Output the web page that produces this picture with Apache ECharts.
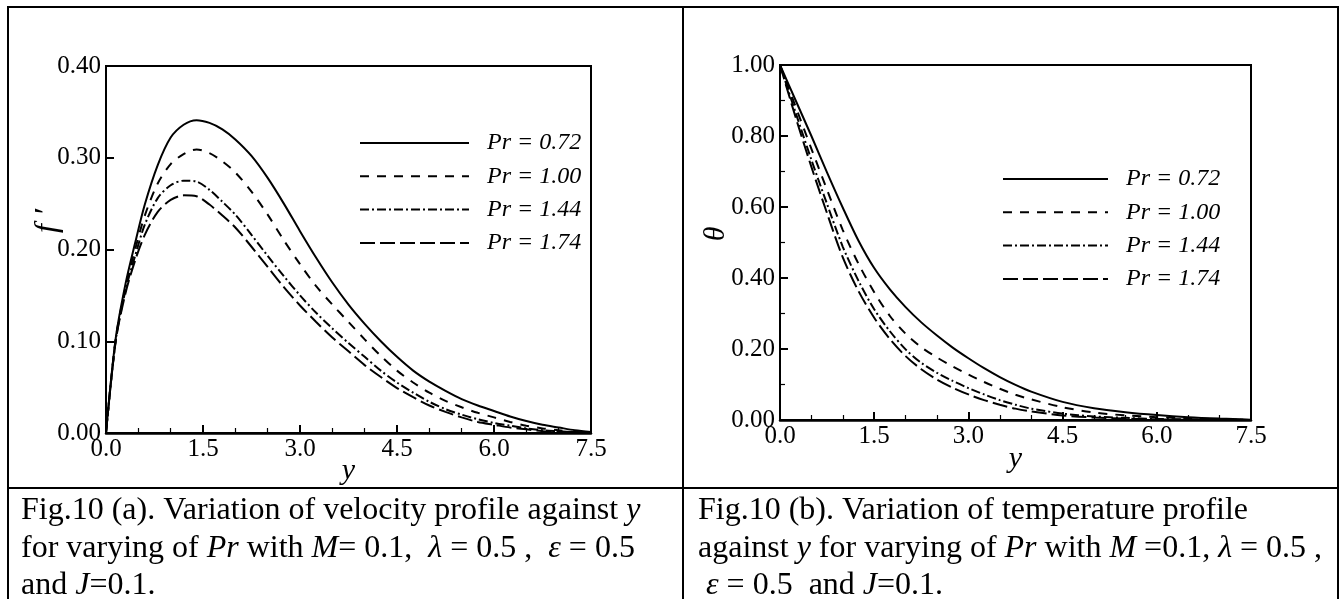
<!DOCTYPE html>
<html>
<head>
<meta charset="utf-8">
<title>Fig.10</title>
<script src="https://cdn.jsdelivr.net/npm/echarts/dist/echarts.min.js"></script>
<style>
  html, body { margin: 0; padding: 0; background: #fff; }
  #main { width: 1340px; height: 599px; }
</style>
</head>
<body>
<div id="main"></div>
<script>
// legend names (same four Pr values in both panels)
var prNames = ['Pr = 0.72', 'Pr = 1.00', 'Pr = 1.44', 'Pr = 1.74'];

// (a) velocity profile f' against y
var velY = [0, 0.15, 0.3, 0.45, 0.6, 0.8, 1.0, 1.2, 1.4, 1.6, 1.8, 2.0, 2.25, 2.5, 2.75, 3.0, 3.25, 3.5, 3.75, 4.0, 4.25, 4.5, 4.75, 5.0, 5.25, 5.5, 5.75, 6.0, 6.25, 6.5, 6.75, 7.0, 7.25, 7.5];
var velPr072 = [0, 0.103, 0.162, 0.207, 0.249, 0.292, 0.322, 0.336, 0.341, 0.338, 0.331, 0.320, 0.302, 0.278, 0.250, 0.220, 0.191, 0.164, 0.140, 0.119, 0.100, 0.083, 0.068, 0.056, 0.046, 0.037, 0.030, 0.024, 0.018, 0.013, 0.009, 0.006, 0.003, 0.001];
var velPr100 = [0, 0.102, 0.158, 0.200, 0.237, 0.272, 0.293, 0.304, 0.309, 0.305, 0.296, 0.284, 0.263, 0.238, 0.210, 0.184, 0.160, 0.140, 0.121, 0.102, 0.084, 0.068, 0.055, 0.044, 0.035, 0.028, 0.022, 0.017, 0.012, 0.008, 0.005, 0.003, 0.001, 0.000];
var velPr144 = [0, 0.101, 0.155, 0.193, 0.227, 0.256, 0.270, 0.275, 0.274, 0.265, 0.252, 0.238, 0.216, 0.193, 0.171, 0.150, 0.131, 0.114, 0.098, 0.083, 0.068, 0.055, 0.044, 0.034, 0.026, 0.020, 0.015, 0.011, 0.008, 0.005, 0.003, 0.002, 0.001, 0.000];
var velPr174 = [0, 0.100, 0.152, 0.188, 0.216, 0.241, 0.254, 0.259, 0.258, 0.249, 0.237, 0.224, 0.203, 0.181, 0.159, 0.139, 0.121, 0.104, 0.089, 0.074, 0.061, 0.049, 0.039, 0.030, 0.023, 0.017, 0.012, 0.009, 0.006, 0.004, 0.002, 0.001, 0.001, 0.000];

// (b) temperature profile theta against y
var tempY = [0, 0.25, 0.5, 0.75, 1.0, 1.25, 1.5, 1.75, 2.0, 2.25, 2.5, 2.75, 3.0, 3.25, 3.5, 3.75, 4.0, 4.5, 5.0, 5.5, 6.0, 6.5, 7.0, 7.5];
var tempPr072 = [1, 0.900, 0.800, 0.697, 0.598, 0.505, 0.428, 0.368, 0.318, 0.275, 0.238, 0.204, 0.174, 0.146, 0.121, 0.099, 0.080, 0.051, 0.033, 0.022, 0.014, 0.008, 0.004, 0.001];
var tempPr100 = [1, 0.882, 0.764, 0.648, 0.535, 0.440, 0.360, 0.293, 0.243, 0.205, 0.176, 0.151, 0.128, 0.107, 0.088, 0.071, 0.058, 0.036, 0.021, 0.013, 0.008, 0.005, 0.002, 0.000];
var tempPr144 = [1, 0.865, 0.733, 0.608, 0.488, 0.392, 0.312, 0.250, 0.199, 0.161, 0.133, 0.110, 0.090, 0.072, 0.056, 0.043, 0.032, 0.018, 0.010, 0.006, 0.003, 0.002, 0.001, 0.000];
var tempPr174 = [1, 0.852, 0.713, 0.582, 0.458, 0.363, 0.288, 0.228, 0.180, 0.143, 0.114, 0.091, 0.072, 0.056, 0.043, 0.032, 0.024, 0.013, 0.007, 0.004, 0.002, 0.001, 0.000, 0.000];

// axis ranges / tick steps
var yTickStep = 1.5, yMax = 7.5;
var velMax = 0.4, velStep = 0.1;
var tempMax = 1.0, tempStep = 0.2;

var serif = "'Liberation Serif', 'Times New Roman', serif";
var dashTypes = ['solid', [9, 8], [9, 3, 2, 3], [15, 5]];

function pairs(xs, ys) {
	return xs.map(function (x, i) { return [x, ys[i]]; });
}

function xAxisFor(grid, nameGap) {
	return {
		gridIndex: grid, type: 'value', min: 0, max: yMax, interval: yTickStep,
		name: 'y', nameLocation: 'middle', nameGap: nameGap, nameMoveOverlap: false,
		nameTextStyle: { fontFamily: serif, fontStyle: 'italic', fontSize: 30, color: '#000' },
		axisLine: { lineStyle: { color: '#000', width: 2.5 } },
		axisTick: { inside: true, length: 8, lineStyle: { color: '#000', width: 2 } },
		minorTick: { show: true, splitNumber: 3, length: 5, lineStyle: { color: '#000', width: 1.2 } },
		splitLine: { show: false },
		axisLabel: { color: '#000', fontFamily: serif, fontSize: 25, margin: 4,
			formatter: function (v) { return v.toFixed(1); } }
	};
}

function yAxisFor(grid, max, step, minor) {
	return {
		gridIndex: grid, type: 'value', min: 0, max: max, interval: step,
		axisLine: { show: true, lineStyle: { color: '#000', width: 2 } },
		axisTick: { inside: true, length: 8, lineStyle: { color: '#000', width: 2 } },
		minorTick: { show: minor > 0, splitNumber: minor || 2, length: 5, lineStyle: { color: '#000', width: 1.2 } },
		splitLine: { show: false },
		axisLabel: { color: '#000', fontFamily: serif, fontSize: 25, margin: 5,
			formatter: function (v) { return v.toFixed(2); } }
	};
}

var velSets = [velPr072, velPr100, velPr144, velPr174];
var tempSets = [tempPr072, tempPr100, tempPr144, tempPr174];
var series = [];
velSets.forEach(function (vals, i) {
	series.push({
		name: prNames[i], type: 'line', xAxisIndex: 0, yAxisIndex: 0, color: '#000',
		data: pairs(velY, vals), symbol: 'none', smooth: 0.3,
		lineStyle: { color: '#000', width: 2, type: dashTypes[i] }
	});
});
tempSets.forEach(function (vals, i) {
	series.push({
		name: prNames[i], type: 'line', xAxisIndex: 1, yAxisIndex: 1, color: '#000',
		data: pairs(tempY, vals), symbol: 'none', smooth: 0.3,
		lineStyle: { color: '#000', width: 2, type: dashTypes[i] }
	});
});

function legendAt(left, top, width) {
	return {
		data: prNames, orient: 'vertical', left: left, top: top,
		itemWidth: width, itemHeight: 14, itemGap: 9.3,
		selectedMode: false,
		itemStyle: { opacity: 0 },
		textStyle: { fontFamily: serif, fontStyle: 'italic', fontSize: 24, lineHeight: 24,
			color: '#000', padding: [0, 0, 0, 13] }
	};
}

var captionRich = {
	n: { fontFamily: serif, fontSize: 32, lineHeight: 37.5, color: '#000' },
	i: { fontFamily: serif, fontSize: 32, lineHeight: 37.5, color: '#000', fontStyle: 'italic' }
};

var chart = echarts.init(document.getElementById('main'), null, { renderer: 'canvas' });
chart.setOption({
	animation: false,
	backgroundColor: '#fff',
	grid: [
		{ left: 106, top: 66, width: 485, height: 367, show: true, borderColor: '#000', borderWidth: 2 },
		{ left: 780, top: 65, width: 471, height: 355, show: true, borderColor: '#000', borderWidth: 2 }
	],
	xAxis: [xAxisFor(0, 23), xAxisFor(1, 24)],
	yAxis: [yAxisFor(0, velMax, velStep, 0), yAxisFor(1, tempMax, tempStep, 2)],
	legend: [legendAt(354, 126, 109), legendAt(997, 162, 105)],
	series: series,
	graphic: [
		// table frame around the two panels
		{ type: 'rect', silent: true, shape: { x: 8, y: 7, width: 1330, height: 640 },
			style: { fill: 'none', stroke: '#000', lineWidth: 2 } },
		{ type: 'line', silent: true, shape: { x1: 683, y1: 7, x2: 683, y2: 640 },
			style: { stroke: '#000', lineWidth: 2 } },
		{ type: 'line', silent: true, shape: { x1: 8, y1: 488, x2: 1338, y2: 488 },
			style: { stroke: '#000', lineWidth: 2 } },
		// y axis titles
		{ type: 'text', x: 48, y: 221, rotation: Math.PI / 2,
			style: { text: "f \u2032", fontFamily: serif, fontStyle: 'italic', fontSize: 32,
				fill: '#000', align: 'center', verticalAlign: 'middle' } },
		{ type: 'text', x: 716, y: 234, rotation: Math.PI / 2,
			style: { text: '\u03b8', fontFamily: serif, fontStyle: 'italic', fontSize: 30,
				fill: '#000', align: 'center', verticalAlign: 'middle' } },
		// captions
		{ type: 'text', x: 21, y: 492,
			style: {
				text: '{n|Fig.10 (a). Variation of velocity profile against }{i|y}\n' +
					'{n|for varying of }{i|Pr}{n| with }{i|M}{n|= 0.1,  }{i|\u03bb}{n| = 0.5 ,  }{i|\u03b5}{n| = 0.5}\n' +
					'{n|and }{i|J}{n|=0.1.}',
				rich: captionRich, verticalAlign: 'top', align: 'left'
			} },
		{ type: 'text', x: 698, y: 492,
			style: {
				text: '{n|Fig.10 (b). Variation of temperature profile}\n' +
					'{n|against }{i|y}{n| for varying of }{i|Pr}{n| with }{i|M}{n| =0.1, }{i|\u03bb}{n| = 0.5 ,}\n' +
					'{n| }{i|\u03b5}{n| = 0.5  and }{i|J}{n|=0.1.}',
				rich: captionRich, verticalAlign: 'top', align: 'left'
			} }
	]
});
</script>
</body>
</html>
